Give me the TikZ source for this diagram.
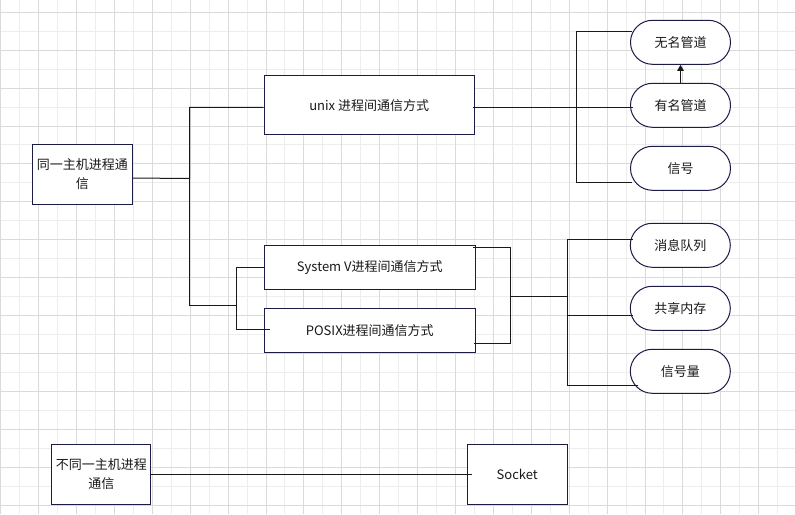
\documentclass[tikz,border=0pt]{standalone}
\usepackage{fontspec}
\setmainfont{Noto Sans CJK SC}
\usetikzlibrary{arrows.meta}

\definecolor{NodeLine}{HTML}{1B1B48}
\definecolor{GridMinor}{HTML}{EDEDED}
\definecolor{GridMajor}{HTML}{DADADA}

\tikzset{
  box/.style={draw=NodeLine, fill=white, line width=1pt, inner sep=0pt, align=center,
    text=black!90, font=\fontsize{13}{19}\selectfont},
  pill/.style={box, minimum width=100pt, minimum height=44pt, rounded corners=22pt},
  link/.style={line width=1pt, color=black!90},
}

\begin{document}
\begin{tikzpicture}[x=1pt, y=-1pt]

 \fill [white] (0,0) rectangle (795,514) ;
 \useasboundingbox (0,0) rectangle (795,514) ;

  %%%%%%%%%% Grid %%%%%%%%%%
 \foreach \i in {0,...,41} \draw [GridMinor, line width=1pt] ({0.7+18.95*\i},0) -- ({0.7+18.95*\i},514) ;
 \foreach \j in {0,...,26} \draw [GridMinor, line width=1pt] (0,{12.3+18.95*\j}) -- (795,{12.3+18.95*\j}) ;
 \foreach \i in {0,...,20} \draw [GridMajor, line width=1pt] ({0.7+37.9*\i},0) -- ({0.7+37.9*\i},514) ;
 \foreach \j in {0,...,13} \draw [GridMajor, line width=1pt] (0,{12.3+37.9*\j}) -- (795,{12.3+37.9*\j}) ;

  %%%%%%%%%% Boxes %%%%%%%%%%
 \node [box, minimum width=100pt, minimum height=60pt] (host) at (82.3,174.2) {同一主机进程通\\信} ;
 \node [box, minimum width=210pt, minimum height=59pt] (unix) at (369.2,105.3) {unix 进程间通信方式} ;
 \node [box, minimum width=211pt, minimum height=44pt] (sysv) at (369.8,267.3) {System V进程间通信方式} ;
 \node [box, minimum width=211pt, minimum height=44pt] (posix) at (369.8,330.2) {POSIX进程间通信方式} ;
 \node [box, minimum width=99.3pt, minimum height=59.7pt] (remote) at (101.3,474.2) {不同一主机进程\\通信} ;
 \node [box, minimum width=100pt, minimum height=59.7pt] (socket) at (517.3,474.2) {Socket} ;

  %%%%%%%%%% Pills %%%%%%%%%%
 \node [pill] (nopipe) at (680.5,42.3) {无名管道} ;
 \node [pill] (fifo) at (680.5,105.3) {有名管道} ;
 \node [pill] (signal) at (680.5,168.3) {信号} ;
 \node [pill] (msgq) at (680.3,245.3) {消息队列} ;
 \node [pill] (shm) at (680.3,308.3) {共享内存} ;
 \node [pill] (sem) at (680.3,371.3) {信号量} ;

  %%%%%%%%%% Elbows %%%%%%%%%%
 \coordinate (split) at (189.7,178.3) ;
 \coordinate (groupin) at (236.3,305.3) ;
 \coordinate (groupout) at (510.5,296.3) ;
 \coordinate (ipcsplit) at (567.7,296.3) ;
 \coordinate (pipesplit) at (576.3,107.3) ;
 \coordinate (shmin) at ([xshift=3pt, yshift=-7pt]shm.west) ;

  %%%%%%%%%% Links %%%%%%%%%%
 % host side
 \draw [link] ([yshift=-4pt]host.east) -- (split) |- ([yshift=-2pt]unix.west) ;
 \draw [link] (split) |- (groupin) ;
 \draw [link] (sysv.west) -| (groupin) |- ([xshift=6pt, yshift=1pt]posix.west) ;
 \draw [link] ([xshift=-3pt, yshift=-3pt]sysv.north east) -| (groupout) |- ([xshift=-2pt, yshift=9pt]posix.south east) ;
 \draw [link] (groupout) -- (ipcsplit) ;

 % pipes
 \draw [link] ([xshift=-2pt, yshift=-2pt]unix.east) -- ([xshift=2.8pt, yshift=-2pt]fifo.west) ;
 \draw [link] ([xshift=2pt, yshift=10.6pt]nopipe.west) -| (pipesplit) |- ([xshift=1.5pt, yshift=-14pt]signal.west) ;
 \draw [link, -{Triangle[width=6.5pt, length=6pt]}] (fifo) -- (nopipe) ;

 % System V / POSIX
 \draw [link] ([xshift=3pt, yshift=6pt]msgq.west) -| (ipcsplit) |- ([xshift=8pt, yshift=-13.7pt]sem.west) ;
 \draw [link] (ipcsplit |- shmin) -- (shmin) ;

 % remote
 \draw [link] (remote.east) -- ([xshift=5pt]socket.west) ;

\end{tikzpicture}
\end{document}
